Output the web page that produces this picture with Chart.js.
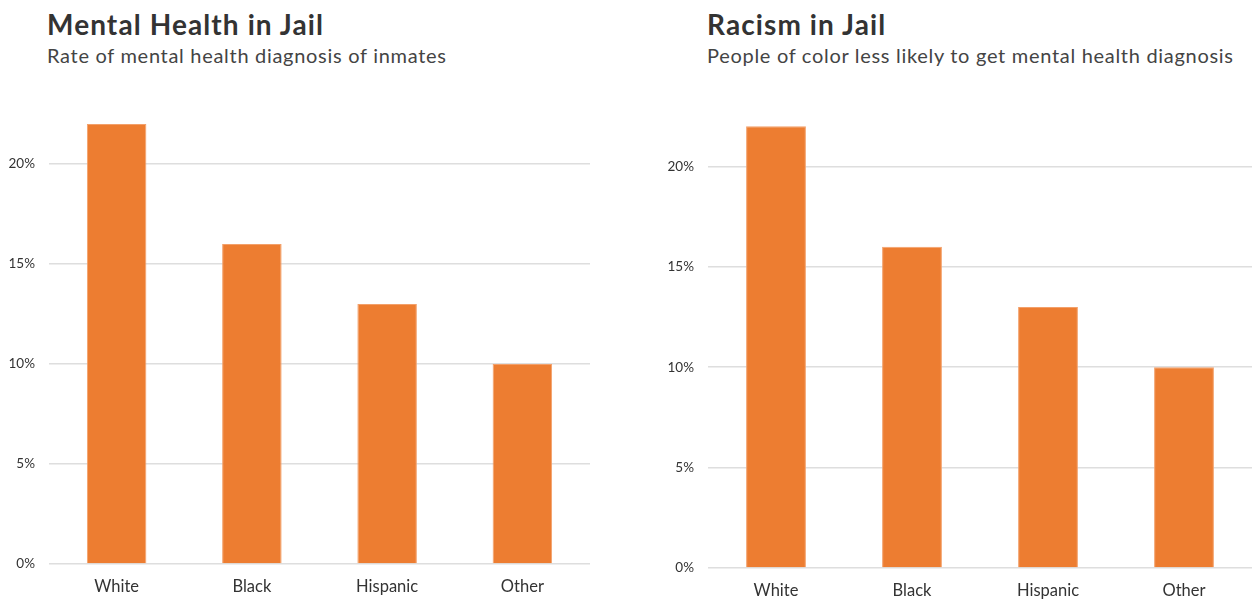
<!DOCTYPE html>
<html>
<head>
<meta charset="utf-8">
<script src="https://cdn.jsdelivr.net/npm/chart.js@4"></script>
<style>
  body { margin: 0; background: #fff; width: 1252px; height: 599px; overflow: hidden; position: relative; font-family: Lato, "Open Sans", sans-serif; }
  .panel { position: absolute; top: 0; height: 599px; }
  .title { position: absolute; font-weight: bold; font-size: 28px; letter-spacing: 1.1px; color: #333; white-space: nowrap; }
  .subtitle { position: absolute; font-size: 20px; letter-spacing: 0.7px; color: #444; white-space: nowrap; }
</style>
</head>
<body>
<div class="title" style="left:47px; top:7px;">Mental Health in Jail</div>
<div class="subtitle" style="left:47px; top:43px;">Rate of mental health diagnosis of inmates</div>
<div class="title" style="left:707px; top:7px;">Racism in Jail</div>
<div class="subtitle" style="left:707px; top:43px;">People of color less likely to get mental health diagnosis</div>

<div class="panel" style="left:0; width:590px;"><canvas id="leftChart" width="590" height="599"></canvas></div>
<div class="panel" style="left:659px; width:593px;"><canvas id="rightChart" width="593" height="599"></canvas></div>

<script>
// groups and diagnosis rates (%)
const groups = ["White", "Black", "Hispanic", "Other"];
const diagnosisRate = [22, 16, 13, 10];
const racismRate = [22, 16, 13, 10];

const barColor = "#ED7D31";

function makeChart(id, values, topPad, axisHeight) {
    const ctx = document.getElementById(id).getContext("2d");
    return new Chart(ctx, {
        type: "bar",
        data: {
            labels: groups,
            datasets: [{
                data: values,
                backgroundColor: barColor,
                borderColor: "#f3a06a",
                borderWidth: 1,
                barPercentage: 0.88,
                categoryPercentage: 0.5
            }]
        },
        options: {
            responsive: false,
            animation: false,
            layout: { padding: { top: topPad, left: 0, right: 0, bottom: 0 } },
            plugins: { legend: { display: false }, tooltip: { enabled: false } },
            scales: {
                x: {
                    grid: { display: false },
                    border: { display: false },
                    ticks: { color: "#333", font: { family: "Lato", size: 16.5 }, padding: 5 },
                    afterFit: s => { s.height = axisHeight; }
                },
                y: {
                    min: 0,
                    max: 24,
                    border: { display: false },
                    grid: { color: "#dedede", lineWidth: 1.5, drawTicks: false },
                    ticks: {
                        stepSize: 5,
                        includeBounds: false,
                        color: "#333",
                        padding: 14,
                        font: { family: "Lato", size: 13.5 },
                        callback: v => v + "%"
                    },
                    afterFit: s => { s.width = 49; }
                }
            }
        }
    });
}

makeChart("leftChart", diagnosisRate, 84, 35);
makeChart("rightChart", racismRate, 86, 31);
</script>
</body>
</html>
